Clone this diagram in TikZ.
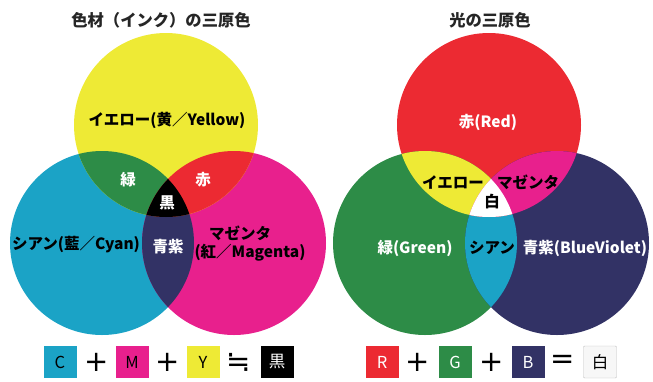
\documentclass[tikz,border=0pt]{standalone}
\usepackage{fontspec}
\setmainfont{Noto Sans CJK JP}
\newfontfamily\symfont{DejaVu Sans}
\definecolor{cY}{HTML}{EEEA35}
\definecolor{cC}{HTML}{1BA3C6}
\definecolor{cM}{HTML}{E8208D}
\definecolor{cG}{HTML}{2D8C47}
\definecolor{cR}{HTML}{EC2A32}
\definecolor{cB}{HTML}{323265}
\begin{document}
\begin{tikzpicture}[x=1pt,y=-1pt,
  title/.style={font=\fontsize{16.3}{19}\selectfont\bfseries, text=black!85},
  lab/.style={font=\fontsize{15.5}{18}\selectfont\bfseries, inner sep=0pt},
  wlab/.style={lab, text=white},
  blab/.style={lab, text=black},
  sq/.style={minimum width=33pt, minimum height=32pt, inner sep=0pt, font=\fontsize{16.5}{18}\selectfont},
  op/.style={font=\fontsize{29}{31}\symfont, inner sep=0pt}
]
\useasboundingbox (0,0) rectangle (653,381);
% ---------- subtractive (CMY) ----------
\fill[cC] (102,243) circle[radius=92pt];
\fill[cM] (234,243) circle[radius=92pt];
\fill[cY] (166,125) circle[radius=92pt];
\begin{scope}
  \clip (102,243) circle[radius=92pt];
  \fill[cB] (234,243) circle[radius=92pt];
\end{scope}
\begin{scope}
  \clip (166,125) circle[radius=92pt];
  \fill[cG] (102,243) circle[radius=92pt];
  \fill[cR] (234,243) circle[radius=92pt];
  \clip (102,243) circle[radius=92pt];
  \fill[black] (234,243) circle[radius=92pt];
\end{scope}
\node[title] (t1) at (161,20) {色材（インク）の三原色};
\node[blab] (ly) at (167,120) {イエロー(黄／Yellow)};
\node[wlab] (lg) at (128,180) {緑};
\node[wlab] (lr) at (203,180) {赤};
\node[wlab] (lk) at (167,203) {黒};
\node[blab] (lc) at (76,245) {シアン(藍／Cyan)};
\node[wlab] (lb) at (168,247) {青紫};
\node[blab] (lm1) at (240,233) {マゼンタ};
\node[blab] (lm2) at (250,253) {(紅／Magenta)};
\node[sq, fill=cC] (sc) at (60,362) {C};
\node[op] (p1) at (97,362) {+};
\node[sq, fill=cM] (sm) at (132,362) {M};
\node[op] (p2) at (168,362) {+};
\node[sq, fill=cY] (sy) at (203,362) {Y};
\node[op] (eq1) at (239,362) {≒};
\node[sq, fill=black, text=white] (sk) at (277,362) {黒};
% ---------- additive (RGB) ----------
\fill[cR] (489,125) circle[radius=92pt];
\fill[cG] (425,243) circle[radius=92pt];
\fill[cB] (557,243) circle[radius=92pt];
\begin{scope}
  \clip (425,243) circle[radius=92pt];
  \fill[cC] (557,243) circle[radius=92pt];
\end{scope}
\begin{scope}
  \clip (489,125) circle[radius=92pt];
  \fill[cY] (425,243) circle[radius=92pt];
  \fill[cM] (557,243) circle[radius=92pt];
  \clip (425,243) circle[radius=92pt];
  \fill[white] (557,243) circle[radius=92pt];
\end{scope}
\node[title] (t2) at (490,20) {光の三原色};
\node[wlab] (lr2) at (488,122) {赤(Red)};
\node[blab] (ly2) at (453,182) {イエロー};
\node[blab] (lm3) at (528,182) {マゼンタ};
\node[blab] (lw) at (492,202) {白};
\node[wlab] (lg2) at (415,248) {緑(Green)};
\node[blab] (lc2) at (492,248) {シアン};
\node[wlab] (lb2) at (585,248) {青紫(BlueViolet)};
\node[sq, fill=cR, text=white] (sr) at (382,362) {R};
\node[op] (p3) at (418,362) {+};
\node[sq, fill=cG, text=white] (sg) at (455,362) {G};
\node[op] (p4) at (492,362) {+};
\node[sq, fill=cB, text=white] (sb) at (528,362) {B};
\node[op] (eq2) at (563,362) {=};
\node[sq, fill=black!3, draw=black!25, rounded corners=1pt] (sw) at (600,362) {白};
\end{tikzpicture}
\end{document}
